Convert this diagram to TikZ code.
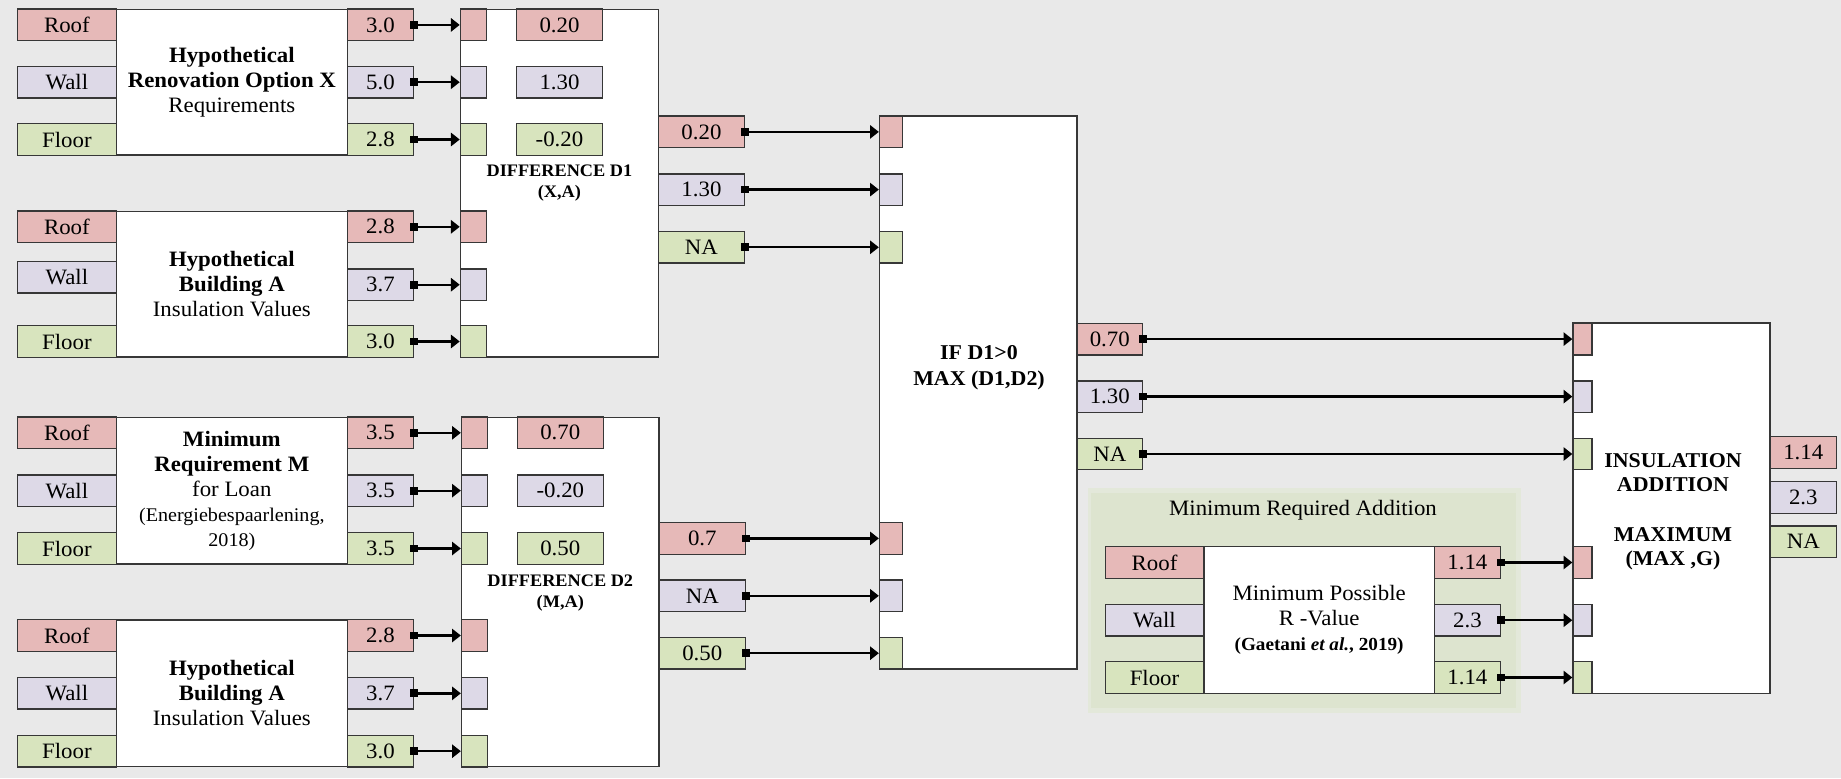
\documentclass[tikz,border=0pt]{standalone}
\usepackage{fontspec}
\setmainfont{Liberation Serif}[FakeStretch=1.04]
\usepackage{tikz}
\usetikzlibrary{arrows.meta}
\definecolor{bgray}{RGB}{233,233,233}
\definecolor{boxline}{RGB}{55,55,55}
\definecolor{roofred}{RGB}{230,185,184}
\definecolor{wallviolet}{RGB}{221,217,231}
\definecolor{floorgreen}{RGB}{216,228,190}
\definecolor{grouplight}{RGB}{227,232,218}
\definecolor{groupgreen}{RGB}{221,228,207}
\tikzset{
  cell/.style={rectangle, draw=boxline, line width=0.75pt, inner sep=0pt,
               minimum height=0.63cm, font=\fontsize{12.5}{14}\selectfont},
  roof/.style={cell, fill=roofred},
  wall/.style={cell, fill=wallviolet},
  floor/.style={cell, fill=floorgreen},
  lbl/.style={minimum width=1.972cm},
  val/.style={minimum width=1.32cm},
  res/.style={minimum width=1.72cm},
  tab/.style={minimum width=#1},
  block/.style={rectangle, draw=boxline, line width=0.75pt, fill=white,
                inner sep=0pt, align=center, font=\fontsize{12.5}{14.2}\selectfont},
  oplabel/.style={align=center, font=\bfseries\fontsize{10}{12.1}\selectfont},
  biglabel/.style={align=center, font=\bfseries\fontsize{12}{14.6}\selectfont},
  link/.style={{Square[length=4.4pt,width=4.4pt]}-{Triangle[length=5pt,width=7.5pt]},
               line width=1.3pt, shorten <=-2.2pt}
}
\begin{document}
\begin{tikzpicture}[x=0.02cm, y=-0.02cm]
\fill[bgray] (0,0) rectangle (1841,778);

% input blocks
\node[block, minimum width=4.626cm, minimum height=2.912cm] (optx) at (231.85,82.2)
  {\textbf{Hypothetical}\\\textbf{Renovation Option X}\\Requirements};
\foreach \n/\s/\t/\v/\y in {r/roof/Roof/3.0/24.9, w/wall/Wall/5.0/82.2, f/floor/Floor/2.8/139.5}{
  \node[\s, lbl] (xl\n) at (66.9,\y) {\t};
  \node[\s, val] (xv\n) at (380.4,\y) {\v};
}

\node[block, minimum width=4.626cm, minimum height=2.914cm] (blda) at (231.85,284.15)
  {\textbf{Hypothetical}\\\textbf{Building A}\\Insulation Values};
\foreach \n/\s/\t/\v/\y/\z in {r/roof/Roof/2.8/226.8/226.8, w/wall/Wall/3.7/277.4/284.7, f/floor/Floor/3.0/341.5/341.5}{
  \node[\s, lbl] (al\n) at (66.9,\y) {\t};
  \node[\s, val] (av\n) at (380.4,\z) {\v};
}

\node[block, minimum width=4.626cm, minimum height=2.934cm] (minm) at (231.85,490.65)
  {\textbf{Minimum}\\\textbf{Requirement M}\\for Loan\\{\fontsize{11}{14.2}\selectfont(Energiebespaarlening,}\\{\fontsize{11}{14.2}\selectfont 2018)}};
\foreach \n/\s/\t/\v/\y in {r/roof/Roof/3.5/432.8, w/wall/Wall/3.5/490.65, f/floor/Floor/3.5/548.5}{
  \node[\s, lbl] (ml\n) at (66.9,\y) {\t};
  \node[\s, val] (mv\n) at (380.4,\y) {\v};
}

\node[block, minimum width=4.626cm, minimum height=2.934cm] (bldb) at (231.85,693.35)
  {\textbf{Hypothetical}\\\textbf{Building A}\\Insulation Values};
\foreach \n/\s/\t/\v/\y in {r/roof/Roof/2.8/635.5, w/wall/Wall/3.7/693.35, f/floor/Floor/3.0/751.2}{
  \node[\s, lbl] (bl\n) at (66.9,\y) {\t};
  \node[\s, val] (bv\n) at (380.4,\y) {\v};
}

% difference D1
\node[block, minimum width=3.964cm, minimum height=6.952cm] (dif1) at (559.4,183.2) {};
\node[oplabel] (dif1txt) at (559.4,183.3) {DIFFERENCE D1\\(X,A)};
\foreach \n/\s/\y in {xr/roof/24.9, xw/wall/82.2, xf/floor/139.5, ar/roof/226.8, aw/wall/284.7, af/floor/341.5}
  \node[\s, tab=0.52cm] (d1\n) at (473.4,\y) {};
\foreach \n/\s/\v/\y in {r/roof/0.20/24.9, w/wall/1.30/82.2, f/floor/-0.20/139.5}
  \node[\s, res] (d1q\n) at (559.5,\y) {\v};
\foreach \n in {r,w,f}{
  \draw[link] (xv\n) -- (d1x\n);
  \draw[link] (av\n) -- (d1a\n);
}

% difference D2
\node[block, minimum width=3.95cm, minimum height=6.988cm] (dif2) at (560.25,592) {};
\node[oplabel] (dif2txt) at (560.3,593) {DIFFERENCE D2\\(M,A)};
\foreach \n/\s/\y in {mr/roof/432.8, mw/wall/490.65, mf/floor/548.5, br/roof/635.5, bw/wall/693.35, bf/floor/751.2}
  \node[\s, tab=0.52cm] (d2\n) at (474.5,\y) {};
\foreach \n/\s/\v/\y in {r/roof/0.70/432.8, w/wall/-0.20/490.65, f/floor/0.50/548.5}
  \node[\s, res] (d2q\n) at (560.3,\y) {\v};
\foreach \n in {r,w,f}{
  \draw[link] (mv\n) -- (d2m\n);
  \draw[link] (bv\n) -- (d2b\n);
}

% outputs of D1 and D2
\foreach \n/\s/\v/\y in {r/roof/0.20/131.9, w/wall/1.30/189.6, f/floor/NA/247.3}
  \node[\s, res] (d1o\n) at (701.45,\y) {\v};
\foreach \n/\s/\v/\y in {r/roof/0.7/538.4, w/wall/NA/595.8, f/floor/0.50/653.2}
  \node[\s, res] (d2o\n) at (702.3,\y) {\v};

% if / max
\node[block, minimum width=3.952cm, minimum height=11.06cm] (ifmax) at (978.2,392.5) {};
\node[biglabel] (ifmaxtxt) at (979,368) {IF D1>0\\MAX (D1,D2)};
\foreach \n/\s/\y in {ar/roof/131.9, aw/wall/189.6, af/floor/247.3, br/roof/538.4, bw/wall/595.8, bf/floor/653.2}
  \node[\s, tab=0.46cm] (if\n) at (891,\y) {};
\foreach \n in {r,w,f}{
  \draw[link] (d1o\n) -- (ifa\n);
  \draw[link] (d2o\n) -- (ifb\n);
}
\foreach \n/\s/\v/\y in {r/roof/0.70/339.1, w/wall/1.30/396.6, f/floor/NA/454}
  \node[\s, val, minimum width=1.31cm] (ifo\n) at (1109.75,\y) {\v};

% minimum required addition
\fill[grouplight] (1088,488) rectangle (1521,713);
\fill[groupgreen] (1091,493) rectangle (1516,708);
\node[font=\fontsize{12.5}{14}\selectfont] (grptxt) at (1303,510) {Minimum Required Addition};
\node[block, minimum width=4.612cm, minimum height=2.932cm] (minr) at (1319.1,620)
  {Minimum Possible\\R -Value\\{\bfseries\fontsize{10.5}{14.2}\selectfont(Gaetani \textit{et al.}, 2019)}};
\foreach \n/\s/\t/\v/\y in {r/roof/Roof/1.14/562.5, w/wall/Wall/2.3/620.2, f/floor/Floor/1.14/677.5}{
  \node[\s, lbl] (gl\n) at (1154.5,\y) {\t};
  \node[\s, val] (gv\n) at (1467.4,\y) {\v};
}

% insulation addition
\node[block, minimum width=3.94cm, minimum height=7.414cm] (insadd) at (1671.5,508.15) {};
\node[biglabel, font=\bfseries\fontsize{12}{13.8}\selectfont] (insaddtxt) at (1673,512)
  {INSULATION\\ADDITION\\[14.5pt]MAXIMUM\\(MAX ,G)};
\foreach \n/\s/\y in {ar/roof/339.1, aw/wall/396.6, af/floor/454, br/roof/562.5, bw/wall/620.2, bf/floor/677.5}
  \node[\s, tab=0.38cm] (ins\n) at (1582.5,\y) {};
\foreach \n in {r,w,f}{
  \draw[link] (ifo\n) -- (insa\n);
  \draw[link] (gv\n) -- (insb\n);
}
\foreach \n/\s/\v/\y in {r/roof/1.14/452.5, w/wall/2.3/497.5, f/floor/NA/541.7}
  \node[\s, val, minimum width=1.33cm] (inso\n) at (1803.25,\y) {\v};
\end{tikzpicture}
\end{document}
